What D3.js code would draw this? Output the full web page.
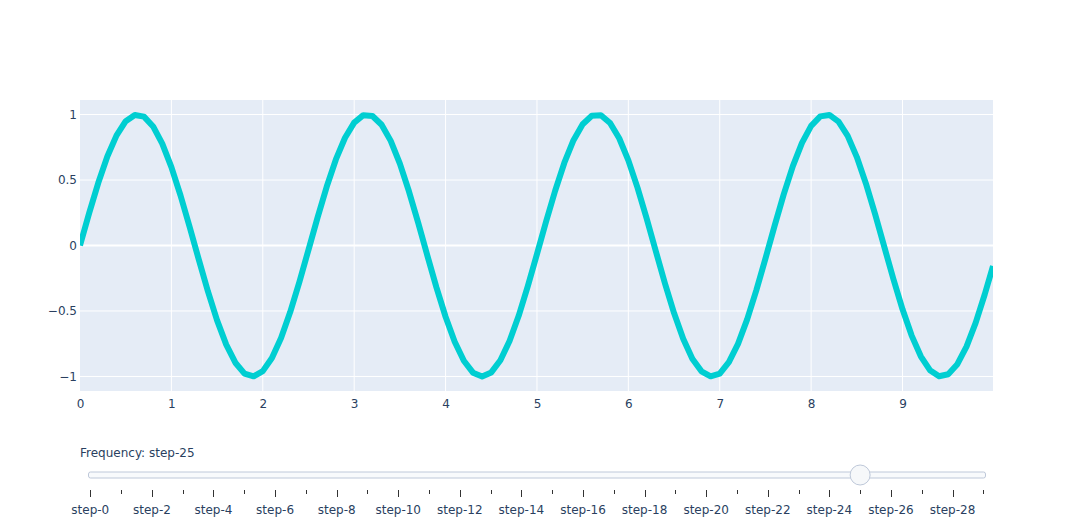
<!DOCTYPE html>
<html>
<head>
<meta charset="utf-8">
<script src="https://cdn.jsdelivr.net/npm/d3@7/dist/d3.min.js"></script>
<style>
  body { margin: 0; background: #fff; }
  text { font-family: "DejaVu Sans", verdana, arial, sans-serif; fill: #2a3f5f; }
</style>
</head>
<body>
<div id="chart"></div>
<script>
// the curve at step-25, every 0.1 on x, plus the last point
var xValues = [
  0.0, 0.1, 0.2, 0.3, 0.4, 0.5, 0.6, 0.7, 0.8, 0.9,
  1.0, 1.1, 1.2, 1.3, 1.4, 1.5, 1.6, 1.7, 1.8, 1.9,
  2.0, 2.1, 2.2, 2.3, 2.4, 2.5, 2.6, 2.7, 2.8, 2.9,
  3.0, 3.1, 3.2, 3.3, 3.4, 3.5, 3.6, 3.7, 3.8, 3.9,
  4.0, 4.1, 4.2, 4.3, 4.4, 4.5, 4.6, 4.7, 4.8, 4.9,
  5.0, 5.1, 5.2, 5.3, 5.4, 5.5, 5.6, 5.7, 5.8, 5.9,
  6.0, 6.1, 6.2, 6.3, 6.4, 6.5, 6.6, 6.7, 6.8, 6.9,
  7.0, 7.1, 7.2, 7.3, 7.4, 7.5, 7.6, 7.7, 7.8, 7.9,
  8.0, 8.1, 8.2, 8.3, 8.4, 8.5, 8.6, 8.7, 8.8, 8.9,
  9.0, 9.1, 9.2, 9.3, 9.4, 9.5, 9.6, 9.7, 9.8, 9.9,
  9.99
];
var yValues = [
   0.000,  0.247,  0.479,  0.682,  0.841,  0.949,  0.997,  0.984,  0.909,  0.778,
   0.598,  0.382,  0.141, -0.108, -0.351, -0.572, -0.757, -0.895, -0.978, -0.999,
  -0.959, -0.859, -0.706, -0.508, -0.279, -0.033,  0.215,  0.450,  0.657,  0.823,
   0.938,  0.995,  0.989,  0.922,  0.799,  0.625,  0.412,  0.174, -0.075, -0.320,
  -0.544, -0.735, -0.880, -0.971, -1.000, -0.969, -0.876, -0.729, -0.537, -0.311,
  -0.066,  0.183,  0.420,  0.632,  0.804,  0.926,  0.991,  0.994,  0.935,  0.819,
   0.650,  0.442,  0.207, -0.042, -0.288, -0.516, -0.712, -0.864, -0.961, -0.999,
  -0.979, -0.891, -0.751, -0.564, -0.343, -0.100,  0.150,  0.390,  0.606,  0.784,
   0.913,  0.986,  0.997,  0.946,  0.837,  0.675,  0.472,  0.239, -0.009, -0.256,
  -0.487, -0.688, -0.846, -0.952, -0.998, -0.983, -0.906, -0.772, -0.591, -0.372,
  -0.157
];
var xTicks = [0, 1, 2, 3, 4, 5, 6, 7, 8, 9];
var yTicks = [-1, -0.5, 0, 0.5, 1];
var stepNames = d3.range(30).map(function(i) { return 'step-' + i; });
var activeStep = 25;

var FONT = '"DejaVu Sans", verdana, arial, sans-serif';

var CHART = {
  config: {
    width: 1073,
    height: 525,
    margin: { top: 100, right: 80, bottom: 134, left: 80 },
    lineColor: '#00ced1',
    plotBg: '#e5ecf6',
    rail: { left: 88, right: 985, y: 475, first: 90.3, last: 983.3 }
  },

  draw: function draw(sel) {
    var c = CHART.config, m = c.margin;
    var w = c.width - m.left - m.right;
    var h = c.height - m.top - m.bottom;

    var svg = d3.select(sel).append('svg')
        .attr('width', c.width)
        .attr('height', c.height);

    var x = d3.scaleLinear().domain([0, 9.99]).range([0, w]);
    var y = d3.scaleLinear().domain([-1.111, 1.111]).range([h, 0]);

    var g = svg.append('g')
        .attr('transform', 'translate(' + m.left + ',' + m.top + ')');

    g.append('rect')
        .attr('width', w).attr('height', h)
        .attr('fill', c.plotBg);

    g.append('clipPath').attr('id', 'clip')
      .append('rect').attr('width', w).attr('height', h);

    // grid
    g.selectAll('.xgrid').data(xTicks.filter(function(d) { return d > 0; }))
      .enter().append('line')
        .attr('x1', x).attr('x2', x)
        .attr('y1', 0).attr('y2', h)
        .attr('stroke', '#fff').attr('stroke-width', 1);
    g.selectAll('.ygrid').data(yTicks)
      .enter().append('line')
        .attr('x1', 0).attr('x2', w)
        .attr('y1', y).attr('y2', y)
        .attr('stroke', '#fff')
        .attr('stroke-width', function(d) { return d === 0 ? 2 : 1; });

    // axes, plotly style: no domain line, no ticks
    var xAxis = g.append('g')
        .attr('transform', 'translate(0,' + h + ')')
        .call(d3.axisBottom(x).tickValues(xTicks).tickSize(0).tickPadding(8)
          .tickFormat(d3.format('d')));
    var yAxis = g.append('g')
        .call(d3.axisLeft(y).tickValues(yTicks).tickSize(0).tickPadding(3)
          .tickFormat(function(d) { return d3.format('')(d).replace('-', '\u2212'); }));
    [xAxis, yAxis].forEach(function(a) {
      a.select('.domain').remove();
      a.selectAll('text').attr('font-size', 12).attr('fill', '#2a3f5f')
        .style('font-family', FONT);
    });

    var line = d3.line()
        .x(function(d, i) { return x(xValues[i]); })
        .y(function(d) { return y(d); });

    g.append('path')
        .datum(yValues)
        .attr('clip-path', 'url(#clip)')
        .attr('fill', 'none')
        .attr('stroke', c.lineColor)
        .attr('stroke-width', 6)
        .attr('stroke-linejoin', 'round')
        .attr('d', line);

    CHART.slider(svg);
  },

  slider: function slider(svg) {
    var r = CHART.config.rail;
    var s = d3.scaleLinear().domain([0, stepNames.length - 1]).range([r.first, r.last]);
    var sg = svg.append('g');

    sg.append('text')
        .attr('x', 80).attr('y', 457)
        .attr('font-size', 12)
        .text('Frequency: ' + stepNames[activeStep]);

    sg.append('rect')
        .attr('x', r.left + 0.5).attr('y', r.y - 3)
        .attr('width', r.right - r.left).attr('height', 6)
        .attr('rx', 2)
        .attr('fill', '#f8fafc')
        .attr('stroke', '#bec8d9');

    sg.selectAll('.tick').data(stepNames)
      .enter().append('line')
        .attr('x1', function(d, i) { return Math.round(s(i)) + 0.5; })
        .attr('x2', function(d, i) { return Math.round(s(i)) + 0.5; })
        .attr('y1', 490)
        .attr('y2', function(d, i) { return i % 2 === 0 ? 497 : 494; })
        .attr('stroke', '#333').attr('stroke-width', 1);

    sg.selectAll('.lbl').data(stepNames.filter(function(d, i) { return i % 2 === 0; }))
      .enter().append('text')
        .attr('x', function(d) { return s(stepNames.indexOf(d)); })
        .attr('y', 514)
        .attr('text-anchor', 'middle')
        .attr('font-size', 12)
        .text(function(d) { return d; });

    sg.append('circle')
        .attr('cx', s(activeStep)).attr('cy', r.y)
        .attr('r', 10)
        .attr('fill', '#f6f8fa')
        .attr('stroke', '#bec8d9');
  }
};

CHART.draw('#chart');
</script>
</body>
</html>
